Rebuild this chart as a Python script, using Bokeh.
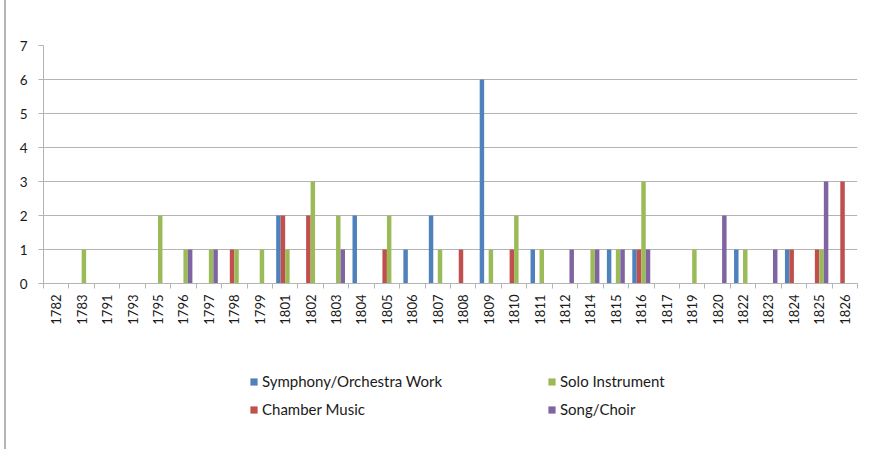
import math
import numpy as np
from bokeh.plotting import figure
from bokeh.models import ColumnDataSource, FixedTicker, Legend, LegendItem, Div, Range1d
from bokeh.layouts import row, column
from bokeh.embed import file_html
from bokeh.resources import INLINE

# Works composed per year, by genre
years = ["1782", "1783", "1791", "1793", "1795", "1796", "1797", "1798", "1799",
         "1801", "1802", "1803", "1804", "1805", "1806", "1807", "1808", "1809",
         "1810", "1811", "1812", "1814", "1815", "1816", "1817", "1819", "1820",
         "1822", "1823", "1824", "1825", "1826"]
symphony = [0, 0, 0, 0, 0, 0, 0, 0, 0, 2, 0, 0, 2, 0, 1, 2, 0, 6, 0, 1, 0, 0, 1, 1, 0, 0, 0, 1, 0, 1, 0, 0]
chamber  = [0, 0, 0, 0, 0, 0, 0, 1, 0, 2, 2, 0, 0, 1, 0, 0, 1, 0, 1, 0, 0, 0, 0, 1, 0, 0, 0, 0, 0, 1, 1, 3]
solo     = [0, 1, 0, 0, 2, 1, 1, 1, 1, 1, 3, 2, 0, 2, 0, 1, 0, 1, 2, 1, 0, 1, 1, 3, 0, 1, 0, 1, 0, 0, 1, 0]
song     = [0, 0, 0, 0, 0, 1, 1, 0, 0, 0, 0, 1, 0, 0, 0, 0, 0, 0, 0, 0, 1, 1, 1, 1, 0, 0, 2, 0, 1, 0, 3, 0]

series_names = ["Symphony/Orchestra Work", "Chamber Music", "Solo Instrument", "Song/Choir"]
series_values = [symphony, chamber, solo, song]
colors = ["#4F81BD", "#C0504D", "#9BBB59", "#8064A2"]
offsets = [-0.265, -0.088, 0.088, 0.265]
bar_w = 0.176

idx = np.arange(len(years))
grid_col = "#b4b4b4"
font = "Lato"

# main chart
p = figure(width=864, height=340, output_backend="svg", toolbar_location=None,
           x_range=Range1d(-0.5, len(years) - 0.5), y_range=Range1d(0, 7),
           min_border_left=37, min_border_right=13, min_border_top=45,
           min_border_bottom=57)
p.outline_line_color = None
p.background_fill_color = "white"
p.border_fill_color = "white"

for name, vals, col, off in zip(series_names, series_values, colors, offsets):
    src = ColumnDataSource(dict(x=idx + off, top=vals))
    p.vbar(x="x", top="top", bottom=0, width=bar_w, source=src,
           fill_color=col, line_color=None)

# y axis
p.yaxis.ticker = FixedTicker(ticks=list(range(0, 8)))
p.yaxis.axis_line_color = grid_col
p.yaxis.major_tick_line_color = grid_col
p.yaxis.major_tick_out = 5
p.yaxis.major_tick_in = 0
p.yaxis.minor_tick_line_color = None
p.yaxis.major_label_standoff = 11
p.yaxis.major_label_text_font = font
p.yaxis.major_label_text_font_size = "13.5px"
p.yaxis.major_label_text_color = "#1a1a1a"
p.ygrid.ticker = FixedTicker(ticks=list(range(0, 8)))
p.ygrid.grid_line_color = grid_col
p.ygrid.grid_line_width = 1.2

# x axis: labels at category centres, ticks at category boundaries
p.xaxis.ticker = FixedTicker(ticks=list(idx), minor_ticks=list(np.arange(len(years) + 1) - 0.5))
p.xaxis.major_label_overrides = {int(i): y for i, y in zip(idx, years)}
p.xaxis.major_label_orientation = math.pi / 2
p.xaxis.major_tick_line_color = None
p.xaxis.minor_tick_line_color = grid_col
p.xaxis.minor_tick_out = 5
p.xaxis.minor_tick_in = 0
p.xaxis.axis_line_color = grid_col
p.xaxis.major_label_standoff = 5
p.xaxis.major_label_text_font = font
p.xaxis.major_label_text_font_size = "13px"
p.xaxis.major_label_text_color = "#1a1a1a"
p.xgrid.visible = False

# legend strip under the chart (swatch renderers sit outside the visible range)
pl = figure(width=864, height=109, output_backend="svg", toolbar_location=None,
            x_range=Range1d(0, 1), y_range=Range1d(0, 1),
            x_axis_type=None, y_axis_type=None, min_border=0)
pl.outline_line_color = None
pl.grid.visible = False
items = []
for name, col in zip(series_names, colors):
    r = pl.quad(left=[-5], right=[-4], bottom=[0], top=[1], fill_color=col, line_color=None)
    items.append(LegendItem(label=name, renderers=[r]))

legend = Legend(items=items, ncols=2, location=(206, 30), orientation="vertical",
                glyph_width=9, glyph_height=9, label_standoff=4,
                label_width=277, label_height=20, spacing=8,
                padding=0, margin=0, border_line_color=None,
                background_fill_alpha=0,
                label_text_font=font, label_text_font_size="15px",
                label_text_color="#1a1a1a")
pl.add_layout(legend, "center")

edge = Div(width=6, height=449, margin=0,
           styles={"border-right": "2px solid #b4b4b4", "box-sizing": "border-box"})
layout = row(edge, column(p, pl, spacing=0), spacing=0)

open("out.html", "w").write(file_html(layout, INLINE))
